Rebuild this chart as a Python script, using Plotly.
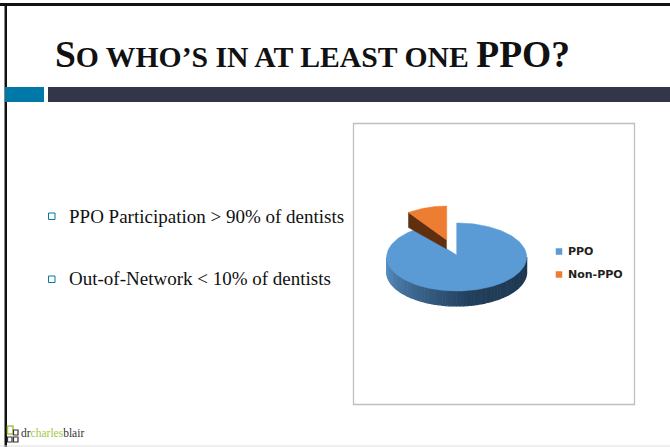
import numpy as np
import plotly.graph_objects as go

categories = ["PPO", "Non-PPO"]
values = [90, 10]
colors = ["#5B9BD5", "#ED7D31"]
bullets = ["PPO Participation &gt; 90% of dentists", "Out-of-Network &lt; 10% of dentists"]

W, H = 670, 447
RX, RY, DEPTH = 70, 34, 15
CX, CY = 456.7, 257
OX, OY = 446.7, 240
ORX = 65


def lerp(a, b, t):
    return "#%02x%02x%02x" % tuple(int(round(a[i] + (b[i] - a[i]) * t)) for i in range(3))


fig = go.Figure()


def poly(xs, ys, color, lw=0.5):
    fig.add_trace(go.Scatter(x=list(xs), y=list(ys), mode="lines", fill="toself", fillcolor=color,
                             line=dict(width=lw, color=color), hoverinfo="skip", showlegend=False))


total = sum(values)
frac = values[1] / total
split = 2 * np.pi * (1 - frac)

# Main slice side wall, shaded across the visible lower half
edges = np.linspace(np.pi / 2, 3 * np.pi / 2, 61)
for a0, a1 in zip(edges[:-1], edges[1:]):
    seg = np.linspace(a0, a1, 4)
    xs = CX + RX * np.sin(seg)
    ys = CY - RY * np.cos(seg)
    t = 1 - (a0 - np.pi / 2) / np.pi
    if t > 0.55:
        c = lerp((0x1C, 0x36, 0x4E), (0x22, 0x3F, 0x5C), (1 - t) / 0.45)
    else:
        c = lerp((0x24, 0x42, 0x60), (0x5A, 0x92, 0xC6), 1 - t / 0.55)
    poly(list(xs) + list(xs[::-1]), list(ys) + list(ys[::-1] + DEPTH), c, lw=1.2)

# Main slice top face
ang = np.linspace(0, split, 200)
poly([CX] + list(CX + RX * np.sin(ang)) + [CX], [CY - 2] + list(CY - RY * np.cos(ang)) + [CY - 2], colors[0])

# Exploded slice: inner wall and top face
tipx = OX + ORX * np.sin(split)
tipy = OY - RY * np.cos(split)
poly([OX, tipx, tipx, OX], [OY, tipy, tipy + DEPTH, OY + DEPTH - 6], "#5F2F10")
ang2 = np.linspace(split, 2 * np.pi, 50)
poly([OX] + list(OX + ORX * np.sin(ang2)) + [OX], [OY] + list(OY - RY * np.cos(ang2)) + [OY], colors[1])

# Legend
for name, col, y in zip(categories, colors, [251.5, 274.5]):
    fig.add_trace(go.Scatter(x=[559], y=[y], mode="markers", marker=dict(symbol="square", size=6.5, color=col),
                             hoverinfo="skip", showlegend=False))
    fig.add_annotation(x=566, y=y, text=f"<b>{name}</b>", showarrow=False, xanchor="left", yanchor="middle",
                       font=dict(family="DejaVu Sans", size=11, color="#222222"))

shapes = [
    dict(type="rect", x0=0, x1=670, y0=3, y1=6, fillcolor="#111111", line_width=0),
    dict(type="rect", x0=4.5, x1=7, y0=3, y1=447, fillcolor="#111111", line_width=0),
    dict(type="rect", x0=5, x1=44, y0=87, y1=102, fillcolor="#0079A8", line_width=0),
    dict(type="rect", x0=48, x1=670, y0=87, y1=102, fillcolor="#333548", line_width=0),
    dict(type="rect", x0=353.5, x1=634.5, y0=123.5, y1=404.5, line=dict(color="#BFBFBF", width=1.3)),
    dict(type="line", x0=0, x1=670, y0=446, y1=446, line=dict(color="#DDDDDD", width=1)),
    dict(type="rect", x0=7.5, x1=13, y0=426, y1=434, line=dict(color="#A5C64A", width=1.5)),
    dict(type="rect", x0=13.5, x1=18, y0=430, y1=435, line=dict(color="#333333", width=1.2)),
    dict(type="rect", x0=7.5, x1=12, y0=437, y1=442, line=dict(color="#333333", width=1.2)),
    dict(type="rect", x0=13.5, x1=18, y0=437, y1=442, line=dict(color="#333333", width=1.2)),
]
for y in [216, 279]:
    shapes.append(dict(type="rect", x0=48.5, x1=55, y0=y - 3, y1=y + 3.5, line=dict(color="#0079A8", width=1)))
for text, y in zip(bullets, [216, 278]):
    fig.add_annotation(x=67, y=y, text=text, showarrow=False, xanchor="left", yanchor="middle",
                       font=dict(family="Liberation Serif", size=19, color="#111111"))

big = '<span style="font-size:37.5px">%s</span>'
title = "<b>" + big % "S" + "O WHO’S IN AT LEAST ONE " + big % "PPO?" + "</b>"
fig.add_annotation(x=53, y=54, text=title, showarrow=False, xanchor="left", yanchor="middle",
                   font=dict(family="Liberation Serif", size=29.7, color="#111111"))

fig.add_annotation(x=19, y=433, showarrow=False, xanchor="left", yanchor="middle",
                   text='dr<span style="color:#A5C64A">charles</span>blair',
                   font=dict(family="Liberation Serif", size=11.5, color="#333333"))

fig.update_layout(width=W, height=H, margin=dict(l=0, r=0, t=0, b=0), paper_bgcolor="white", plot_bgcolor="white",
                  shapes=shapes, showlegend=False,
                  xaxis=dict(range=[0, W], visible=False, fixedrange=True),
                  yaxis=dict(range=[H, 0], visible=False, fixedrange=True))
fig.write_html("out.html", config=dict(displayModeBar=False),
               post_script="document.body.style.margin='0';document.documentElement.style.overflow='hidden';")
